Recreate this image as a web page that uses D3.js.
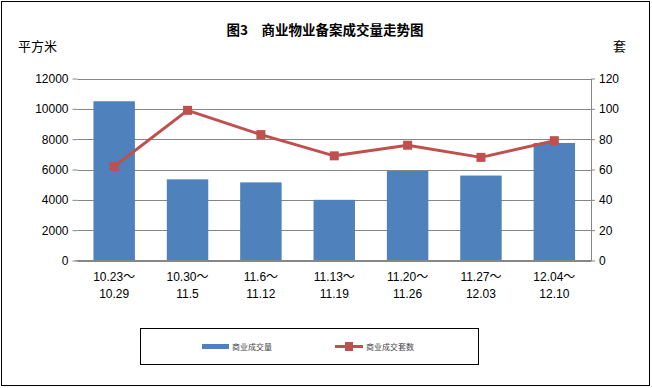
<!DOCTYPE html>
<html><head><meta charset="utf-8">
<script src="https://cdn.jsdelivr.net/npm/d3@7"></script>
<style>
body{margin:0;background:#fff;}
svg{display:block;font-family:"Liberation Sans","Noto Sans CJK SC",sans-serif;}
</style></head>
<body>
<script>
const categories = [["10.23～","10.29"],["10.30～","11.5"],["11.6～","11.12"],["11.13～","11.19"],["11.20～","11.26"],["11.27～","12.03"],["12.04～","12.10"]];
const areaValues = [10500, 5350, 5150, 4000, 5900, 5600, 7750];
const unitValues = [62, 99, 83, 69, 76, 68, 79];
const leftTicks = [0,2000,4000,6000,8000,10000,12000];
const rightTicks = [0,20,40,60,80,100,120];
const seriesNames = ["商业成交量","商业成交套数"];
const title = "图3　商业物业备案成交量走势图";

const W=652,H=388;
const svg=d3.select("body").append("svg").attr("width",W).attr("height",H);
svg.append("rect").attr("x",1.5).attr("y",1.5).attr("width",648).attr("height",384).attr("fill","#fff").attr("stroke","#000").attr("stroke-width",1);

const L=77.5,R=591,T=78.5,B=260.5;
const x=d3.scaleBand().domain(d3.range(categories.length)).range([L,R]).paddingInner(0.435).paddingOuter(0.2175);
const yL=d3.scaleLinear().domain([0,12000]).range([B,T]);
const yR=d3.scaleLinear().domain([0,120]).range([B,T]);

// gridlines
svg.append("g").selectAll("line").data(leftTicks).join("line")
 .attr("x1",L).attr("x2",R).attr("y1",d=>Math.round(yL(d))+0.5).attr("y2",d=>Math.round(yL(d))+0.5)
 .attr("stroke","#868686").attr("stroke-width",1);

// left axis
const gL=svg.append("g").attr("transform",`translate(${L},0)`)
 .call(d3.axisLeft(yL).tickValues(leftTicks).tickSize(5).tickPadding(4).tickFormat(d3.format("d")));
gL.select(".domain").remove();
gL.selectAll("line").attr("stroke","#868686");
gL.selectAll("text").attr("font-size",12).attr("fill","#000");

// right axis
const gR=svg.append("g").attr("transform",`translate(${R},0)`)
 .call(d3.axisRight(yR).tickValues(rightTicks).tickSize(4).tickPadding(4).tickSizeOuter(0));
gR.select(".domain").attr("stroke","#868686");
gR.selectAll("line").attr("stroke","#868686");
gR.selectAll("text").attr("font-size",12).attr("fill","#000");

// bars
svg.append("g").selectAll("rect").data(areaValues).join("rect")
 .attr("x",(d,i)=>x(i)).attr("width",x.bandwidth())
 .attr("y",d=>yL(d)).attr("height",d=>B-yL(d)).attr("fill","#4F81BD");

// bottom axis line
svg.append("line").attr("x1",L-2).attr("x2",R).attr("y1",B).attr("y2",B).attr("stroke","#868686");

// line
const line=d3.line().x((d,i)=>x(i)+x.bandwidth()/2).y(d=>yR(d));
svg.append("path").datum(unitValues).attr("d",line).attr("fill","none").attr("stroke","#C0504D").attr("stroke-width",3).attr("stroke-linejoin","round");
svg.append("g").selectAll("rect").data(unitValues).join("rect")
 .attr("x",(d,i)=>x(i)+x.bandwidth()/2-4.5).attr("y",d=>yR(d)-4.5).attr("width",9).attr("height",9)
 .attr("fill","#C0504D");

// x labels
const xl=svg.append("g").selectAll("text").data(categories).join("text")
 .attr("text-anchor","middle").attr("font-size",12).attr("fill","#000");
xl.each(function(d,i){
  const t=d3.select(this);
  t.append("tspan").attr("x",x(i)+x.bandwidth()/2).attr("y",281).text(d[0]);
  t.append("tspan").attr("x",x(i)+x.bandwidth()/2).attr("y",298).text(d[1]);
});

// title & axis units
svg.append("text").attr("x",325).attr("y",35).attr("text-anchor","middle").attr("font-size",13.5).attr("font-weight","bold")
 .attr("font-family","Noto Sans CJK SC").text(title);
svg.append("text").attr("x",18).attr("y",51).attr("font-size",13).attr("font-family","Noto Sans CJK SC").text("平方米");
svg.append("text").attr("x",613).attr("y",51).attr("font-size",13).attr("font-family","Noto Sans CJK SC").text("套");

// legend
svg.append("rect").attr("x",140.5).attr("y",328.5).attr("width",338).attr("height",36).attr("fill","#fff").attr("stroke","#000").attr("stroke-width",1);
svg.append("rect").attr("x",202).attr("y",344).attr("width",27).attr("height",5).attr("fill","#4F81BD");
svg.append("text").attr("x",232).attr("y",350).attr("font-size",8).attr("fill","#444").attr("font-family","Noto Sans CJK SC").text(seriesNames[0]);
svg.append("line").attr("x1",335).attr("x2",363).attr("y1",346.5).attr("y2",346.5).attr("stroke","#C0504D").attr("stroke-width",3);
svg.append("rect").attr("x",345).attr("y",342).attr("width",8).attr("height",9).attr("fill","#C0504D");
svg.append("text").attr("x",366).attr("y",350).attr("font-size",8).attr("fill","#444").attr("font-family","Noto Sans CJK SC").text(seriesNames[1]);
</script>
</body></html>
